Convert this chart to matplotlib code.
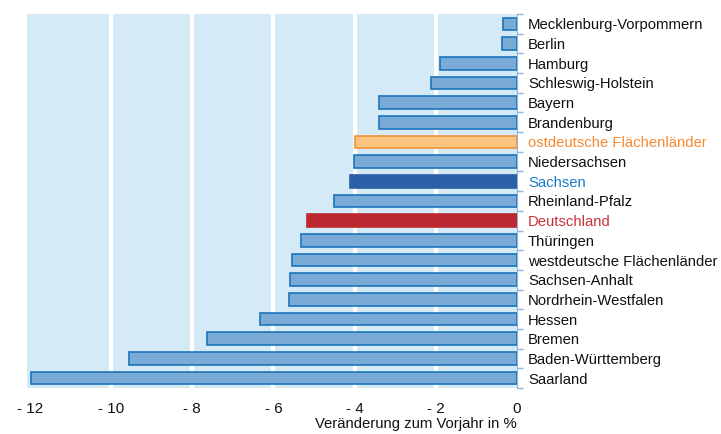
import numpy as np
import matplotlib.pyplot as plt

plt.rcParams['font.family'] = ['Liberation Sans', 'DejaVu Sans']

# data, top to bottom
laender = ['Mecklenburg-Vorpommern', 'Berlin', 'Hamburg', 'Schleswig-Holstein',
           'Bayern', 'Brandenburg', 'ostdeutsche Flächenländer', 'Niedersachsen',
           'Sachsen', 'Rheinland-Pfalz', 'Deutschland', 'Thüringen',
           'westdeutsche Flächenländer', 'Sachsen-Anhalt', 'Nordrhein-Westfalen',
           'Hessen', 'Bremen', 'Baden-Württemberg', 'Saarland']
werte = [-0.35, -0.38, -1.9, -2.13, -3.39, -3.41, -3.98, -4.01, -4.11, -4.51,
         -5.17, -5.33, -5.55, -5.6, -5.61, -6.32, -7.63, -9.56, -11.97]
xticks = [-12, -10, -8, -6, -4, -2, 0]
xticklabels = ['- 12', '- 10', '- 8', '- 6', '- 4', '- 2', '0']

# colours per row
fill = {'ostdeutsche Flächenländer': '#fbc57f', 'Sachsen': '#2b5fa6', 'Deutschland': '#bb2830'}
edge = {'ostdeutsche Flächenländer': '#f39237', 'Sachsen': '#2b5fa6', 'Deutschland': '#bb2830'}
txt = {'ostdeutsche Flächenländer': '#f58a33', 'Sachsen': '#1a7cc8', 'Deutschland': '#c8323a'}

fig = plt.figure(figsize=(7.21, 4.34), dpi=100)
ax = fig.add_axes([27/721, 1-388/434, 490/721, 374/434])
ax.set_facecolor('#d5eaf7')

y = np.arange(len(laender))
cols = [fill.get(l, '#7aabd6') for l in laender]
ecols = [edge.get(l, '#1a75bc') for l in laender]
ax.barh(y, werte, height=0.64, color=cols, edgecolor=ecols, linewidth=1.2, zorder=3)

for x in xticks[1:-1]:
    ax.axvline(x, color='white', lw=3, zorder=1)

ax.set_xlim(-12.07, 0)
ax.set_ylim(len(laender) - 0.5, -0.5)

ax.yaxis.tick_right()
ax.set_yticks(y)
ax.set_yticklabels(laender, fontsize=10.7)
for lab in ax.get_yticklabels():
    lab.set_color(txt.get(lab.get_text(), '#111111'))
ax.tick_params(axis='y', which='major', length=0, pad=8)
ax.set_yticks(np.arange(len(laender) + 1) - 0.5, minor=True)
ax.tick_params(axis='y', which='minor', length=4, color='#8fb5de', width=1)

ax.set_xticks(xticks)
ax.set_xticklabels(xticklabels, fontsize=11, color='#111111')
ax.tick_params(axis='x', length=0, pad=10)
ax.set_xlabel('Veränderung zum Vorjahr in %', fontsize=10.7, loc='right', labelpad=1, color='#111111')

for s in ['top', 'left', 'bottom']:
    ax.spines[s].set_visible(False)
ax.spines['right'].set_color('#8fb5de')

fig.savefig('out.png', dpi=100)
